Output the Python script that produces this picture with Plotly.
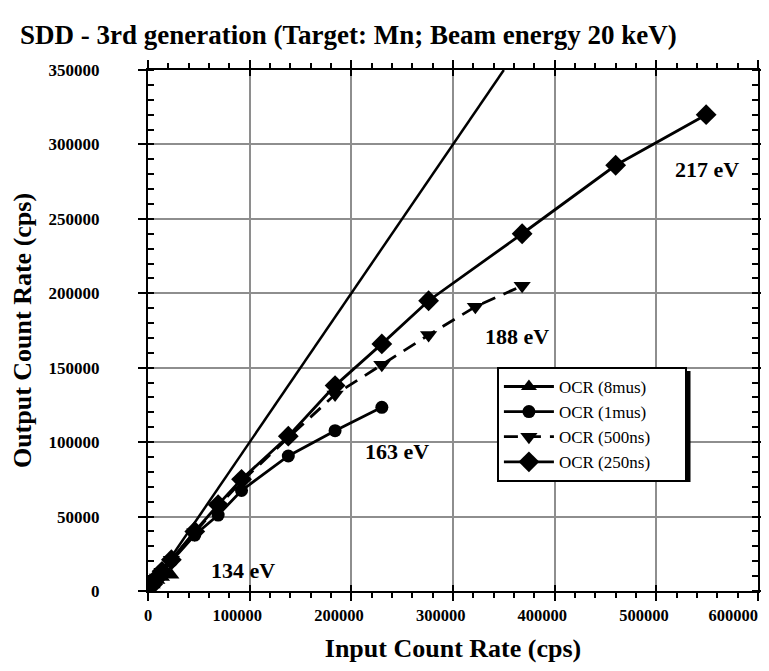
import plotly.graph_objects as go

# Data (cps)
icr_8mus = [4600, 9200, 13800, 23000]
ocr_8mus = [4200, 7200, 9300, 10800]

icr_1mus = [4600, 9200, 13800, 23000, 46000, 69000, 92000, 138000, 184000, 230000]
ocr_1mus = [4400, 8600, 12600, 20000, 37600, 51000, 67500, 90700, 107700, 123400]

icr_500ns = [4600, 9200, 13800, 23000, 46000, 69000, 92000, 138000, 184000, 230000, 276000, 322000, 368000]
ocr_500ns = [4500, 9000, 13000, 21000, 39500, 57000, 73500, 103000, 132000, 152000, 172000, 191000, 205000]

icr_250ns = [4600, 9200, 13800, 23000, 46000, 69000, 92000, 138000, 184000, 230000, 276000, 368000, 460000, 549000]
ocr_250ns = [4500, 9100, 13200, 21000, 40000, 58000, 75000, 104000, 138000, 166000, 195000, 240000, 286000, 320000]

ideal_x = [0, 350000]
ideal_y = [0, 350000]

labels = ["OCR (8mus)", "OCR (1mus)", "OCR (500ns)", "OCR (250ns)"]
resolutions = ["134 eV", "163 eV", "188 eV", "217 eV"]
res_x = [93400, 245000, 363000, 550000]
res_y = [12100, 92700, 169300, 282000]

x_ticks = [0, 100000, 200000, 300000, 400000, 500000, 600000]
y_ticks = [0, 50000, 100000, 150000, 200000, 250000, 300000, 350000]

serif = "Liberation Serif, Times New Roman, serif"
pad = "\u00a0" * 7
nb = "\u00a0"
x_ticktext = ["<b>0</b>"] + [f"<b>{v}</b>{nb * 6}" for v in x_ticks[1:-1]] + [f"<b>{x_ticks[-1]}</b>{nb * 12}"]

fig = go.Figure()
fig.add_trace(go.Scatter(x=ideal_x, y=ideal_y, mode="lines", line=dict(color="black", width=2.5),
                         showlegend=False, hoverinfo="skip"))
fig.add_trace(go.Scatter(x=icr_8mus, y=ocr_8mus, name=labels[0] + pad, mode="lines+markers",
                         line=dict(color="black", width=2.8),
                         marker=dict(symbol="triangle-up", size=14, color="black")))
fig.add_trace(go.Scatter(x=icr_1mus, y=ocr_1mus, name=labels[1] + pad, mode="lines+markers",
                         line=dict(color="black", width=2.8),
                         marker=dict(symbol="circle", size=13, color="black")))
fig.add_trace(go.Scatter(x=icr_500ns, y=ocr_500ns, name=labels[2] + pad, mode="lines+markers",
                         line=dict(color="black", width=2.8, dash="14px,9px"),
                         marker=dict(symbol="triangle-down", size=15, color="black")))
fig.add_trace(go.Scatter(x=icr_250ns, y=ocr_250ns, name=labels[3] + pad, mode="lines+markers",
                         line=dict(color="black", width=2.8),
                         marker=dict(symbol="diamond", size=16, color="black")))

fig.add_trace(go.Scatter(x=res_x, y=res_y, mode="text", text=[f"<b>{t}</b>" for t in resolutions],
                         textposition="middle center", cliponaxis=False,
                         textfont=dict(family=serif, size=22, color="black"),
                         showlegend=False, hoverinfo="skip"))

axis_common = dict(showline=True, linecolor="black", linewidth=2, mirror="allticks",
                   ticks="outside", ticklen=8, tickwidth=2, tickcolor="black",
                   showgrid=True, gridcolor="#8e8e8e", gridwidth=2, zeroline=False,
                   automargin=False, ticklabeloverflow="allow")

# legend drop shadow (paper coordinates of the legend box, offset down/right)
lx0, lx1, ly0, ly1 = 0.572, 0.8828, 0.217, 0.43
sx, sy = 4 / 610, 4 / 521

# The page body has an 8px margin, so the figure is sized/offset to compensate.
fig.update_layout(
    width=761, height=655,
    margin=dict(l=140, r=11, t=62, b=72),
    paper_bgcolor="white", plot_bgcolor="white",
    title=dict(text="<b>SDD - 3rd generation (Target: Mn; Beam energy 20 keV)</b>",
               font=dict(family=serif, size=27, color="black"),
               x=0.0158, xanchor="left", xref="container",
               y=0.9588, yanchor="middle", yref="container"),
    xaxis=dict(range=[0, 600000.5], tickvals=x_ticks, ticktext=x_ticktext,
               tickfont=dict(family=serif, size=16.5, color="black"),
               minor=dict(dtick=20000, ticks="outside", ticklen=5, tickwidth=1.5, tickcolor="black", showgrid=False),
               title=dict(text="<b>Input Count Rate (cps)</b>", font=dict(family=serif, size=26, color="black"), standoff=25),
               **axis_common),
    yaxis=dict(range=[0, 350000.5], tickvals=y_ticks, ticktext=[f"<b>{v}</b>" for v in y_ticks],
               tickfont=dict(family=serif, size=17, color="black"),
               minor=dict(dtick=10000, ticks="inside", ticklen=6, tickwidth=1.5, tickcolor="black", showgrid=False),
               ticklabelstandoff=35,
               title=dict(text="<b>Output Count Rate (cps)</b>", font=dict(family=serif, size=26, color="black"), standoff=10),
               **axis_common),
    xaxis2=dict(overlaying="x", matches="x", range=[0, 600000.5], tickvals=x_ticks, ticks="inside", ticklen=6,
                tickwidth=2, tickcolor="black", mirror="ticks", showticklabels=False, showgrid=False,
                showline=False, zeroline=False, automargin=False),
    yaxis2=dict(overlaying="y", matches="y", range=[0, 350000.5], tickvals=y_ticks, ticks="inside", ticklen=6,
                tickwidth=2, tickcolor="black", mirror="ticks", showticklabels=False, showgrid=False,
                showline=False, zeroline=False, automargin=False),
    legend=dict(x=lx0, y=ly1, xanchor="left", yanchor="top",
                bgcolor="white", bordercolor="black", borderwidth=2,
                font=dict(family=serif, size=17, color="black"),
                itemwidth=50, tracegroupgap=0),
    shapes=[dict(type="rect", xref="paper", yref="paper", layer="above",
                 x0=lx0 + sx, x1=lx1 + sx, y0=ly0 - sy, y1=ly1 - sy,
                 fillcolor="black", line=dict(width=0))],
    showlegend=True,
)

fig.add_trace(go.Scatter(x=[0], y=[0], xaxis="x2", yaxis="y2", mode="markers",
                         marker=dict(opacity=0), showlegend=False, hoverinfo="skip"))

fig.write_html("out.html")
